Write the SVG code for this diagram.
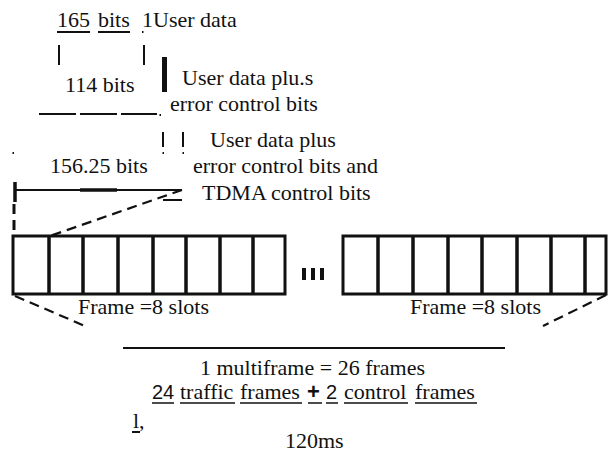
<svg xmlns="http://www.w3.org/2000/svg" width="609" height="453" viewBox="0 0 609 453">
<style>
text{font-family:"Liberation Serif","Times New Roman",serif;font-size:22px;fill:#111}
.sans{font-family:"Liberation Sans",Arial,sans-serif}
.ln{stroke:#111;stroke-width:2;fill:none}
.thick{stroke:#111;stroke-width:3.5;fill:none}
.dash{stroke:#111;stroke-width:2.2;fill:none;stroke-dasharray:10 6}
.box{stroke:#111;stroke-width:3;fill:#fff}
.div{stroke:#111;stroke-width:3.5}
</style>
<rect width="609" height="453" fill="#fff"/>

<g id="user-data">
  <text x="57" y="27">165</text>
  <text x="98" y="27">bits</text>
  <text x="142" y="27">1User data</text>
  <line class="ln" x1="57" y1="32" x2="90" y2="32"/>
  <line class="ln" x1="98" y1="32" x2="130" y2="32"/>
  <rect x="142" y="31" width="1.5" height="2" fill="#111"/>
  <line class="ln" x1="59" y1="45" x2="59" y2="65"/>
  <line class="ln" x1="144" y1="45" x2="144" y2="65"/>
</g>

<g id="coded-data">
  <rect x="162" y="57" width="5" height="35" fill="#111"/>
  <text x="65" y="92">114 bits</text>
  <text x="182" y="85">User data plu.s</text>
  <text x="170" y="111">error control bits</text>
  <line class="ln" x1="39" y1="114" x2="76" y2="114"/>
  <line class="ln" x1="80" y1="114" x2="117" y2="114"/>
  <line class="ln" x1="121" y1="114" x2="157" y2="114"/>
  <rect x="159.5" y="114" width="1.5" height="2" fill="#111"/>
  <line class="ln" x1="163" y1="132" x2="163" y2="147"/>
  <line class="ln" x1="183" y1="132" x2="183" y2="147"/>
</g>

<g id="burst">
  <text x="210" y="147">User data plus</text>
  <text x="50" y="173">156.25 bits</text>
  <text x="193" y="173">error control bits and</text>
  <text x="202" y="200">TDMA control bits</text>
  <rect x="12.5" y="152" width="1.5" height="2" fill="#111"/>
  <rect x="162.5" y="152" width="1.5" height="2" fill="#111"/>
  <rect x="182.5" y="152" width="1.5" height="2" fill="#111"/>
  <line class="ln" x1="15" y1="190" x2="182" y2="190"/>
  <line class="thick" x1="80" y1="190" x2="117" y2="190"/>
  <line class="thick" x1="15" y1="182" x2="15" y2="202"/>
  <line class="ln" x1="163" y1="200" x2="182" y2="200"/>
</g>

<g id="frame-left">
  <rect class="box" x="13" y="236" width="272" height="58"/>
  <line class="div" x1="49" y1="236" x2="49" y2="294"/>
  <line class="div" x1="83" y1="236" x2="83" y2="294"/>
  <line class="div" x1="118" y1="236" x2="118" y2="294"/>
  <line class="div" x1="153" y1="236" x2="153" y2="294"/>
  <line class="div" x1="186" y1="236" x2="186" y2="294"/>
  <line class="div" x1="220" y1="236" x2="220" y2="294"/>
  <line class="div" x1="253" y1="236" x2="253" y2="294"/>
  <text x="78" y="314">Frame =8 slots</text>
</g>

<g id="ellipsis">
  <rect x="302" y="268" width="4" height="12" fill="#111"/>
  <rect x="311" y="268" width="4" height="12" fill="#111"/>
  <rect x="320" y="268" width="4" height="12" fill="#111"/>
</g>

<g id="frame-right">
  <rect class="box" x="343" y="236" width="263" height="58"/>
  <line class="div" x1="378" y1="236" x2="378" y2="294"/>
  <line class="div" x1="413" y1="236" x2="413" y2="294"/>
  <line class="div" x1="448" y1="236" x2="448" y2="294"/>
  <line class="div" x1="482" y1="236" x2="482" y2="294"/>
  <line class="div" x1="517" y1="236" x2="517" y2="294"/>
  <line class="div" x1="551" y1="236" x2="551" y2="294"/>
  <line class="div" x1="585" y1="236" x2="585" y2="294"/>
  <text x="410" y="314">Frame =8 slots</text>
</g>

<g id="multiframe">
  <line class="ln" x1="123" y1="348" x2="505" y2="348"/>
  <text x="200" y="375">1 multiframe = 26 frames</text>
  <text class="sans" x="152" y="399" style="font-size:20px">24</text>
  <text x="180" y="399">traffic</text>
  <text x="240" y="399">frames</text>
  <text class="sans" x="307" y="399" style="font-weight:bold;font-size:22px">+</text>
  <text class="sans" x="326" y="399" style="font-size:20px">2</text>
  <text x="344" y="399">control</text>
  <text x="415" y="399">frames</text>
  <g class="ln" style="stroke-width:1.5">
    <line x1="152" y1="403" x2="174" y2="403"/>
    <line x1="180" y1="403" x2="235" y2="403"/>
    <line x1="240" y1="403" x2="302" y2="403"/>
    <line x1="308" y1="403" x2="322" y2="403"/>
    <line x1="326" y1="403" x2="338" y2="403"/>
    <line x1="344" y1="403" x2="408" y2="403"/>
    <line x1="415" y1="403" x2="477" y2="403"/>
  </g>
  <text x="133" y="428">l,</text>
  <line class="ln" x1="132" y1="432" x2="140" y2="432"/>
  <text x="285" y="448">120ms</text>
</g>

<g id="connectors">
  <line class="dash" x1="182" y1="190" x2="50" y2="236"/>
  <line class="dash" x1="14" y1="204" x2="14" y2="236" style="stroke-width:3"/>
  <line class="dash" x1="15" y1="296" x2="85" y2="326"/>
  <line class="dash" x1="606" y1="295" x2="543" y2="326"/>
</g>
</svg>
